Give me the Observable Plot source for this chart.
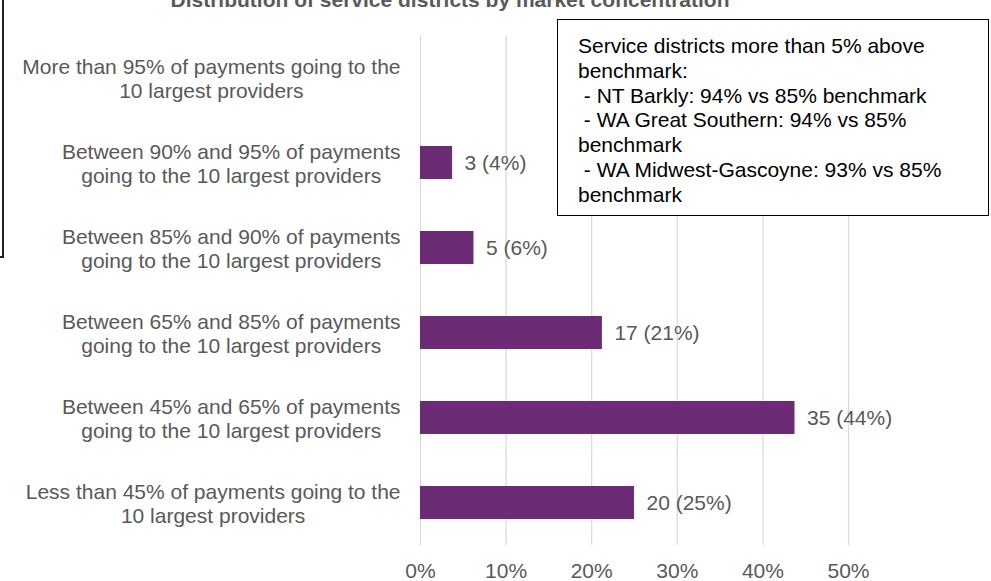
<!DOCTYPE html>
<html>
<head>
<meta charset="utf-8">
<script src="https://cdn.jsdelivr.net/npm/d3@7"></script>
<script src="https://cdn.jsdelivr.net/npm/@observablehq/plot@0.6"></script>
<style>
  html, body { margin: 0; padding: 0; background: #fff; }
  #wrap { position: relative; width: 991px; height: 581px; overflow: hidden; font-family: "Liberation Sans", Arial, sans-serif; }
  #chart { position: absolute; left: 0; top: 0; }
  #title { position: absolute; left: 0; width: 900px; top: -11px; text-align: center; font-weight: bold; font-size: 21px; line-height: 21px; color: #595959; white-space: nowrap; }
  #note { position: absolute; left: 557px; top: 19px; width: 410px; height: 181px; padding: 14px 0 0 20px; border: 1.5px solid #000; background: #fff; color: #000; font-size: 21px; line-height: 24.8px; white-space: pre; box-sizing: content-box; }
  #stray { position: absolute; left: -2px; top: -2px; width: 4px; height: 258px; border-right: 2px solid #222; border-bottom: 2px solid #222; }
</style>
</head>
<body>
<div id="wrap">
  <div id="chart"></div>
  <div id="stray"></div>
  <div id="title"></div>
  <div id="note"></div>
</div>
<script>
const titleText = "Distribution of service districts by market concentration";
const categories = [
  "More than 95% of payments going to the\n10 largest providers",
  "Between 90% and 95% of payments\ngoing to the 10 largest providers",
  "Between 85% and 90% of payments\ngoing to the 10 largest providers",
  "Between 65% and 85% of payments\ngoing to the 10 largest providers",
  "Between 45% and 65% of payments\ngoing to the 10 largest providers",
  "Less than 45% of payments going to the\n10 largest providers"
];
const counts = [0, 3, 5, 17, 35, 20];
const xTicks = [0, 10, 20, 30, 40, 50];
const noteLines = [
  "Service districts more than 5% above",
  "benchmark:",
  " - NT Barkly: 94% vs 85% benchmark",
  " - WA Great Southern: 94% vs 85%",
  "benchmark",
  " - WA Midwest-Gascoyne: 93% vs 85%",
  "benchmark"
];

const total = d3.sum(counts);
const rows = categories.map((c, i) => ({
  category: c,
  count: counts[i],
  pct: counts[i] / total * 100
}));

document.getElementById("title").textContent = titleText;
document.getElementById("note").textContent = noteLines.join("\n");

const grey = "#595959";
const chart = Plot.plot({
  width: 991,
  height: 581,
  marginLeft: 420,
  marginRight: 143,
  marginTop: 35,
  marginBottom: 36,
  style: { fontFamily: "'Liberation Sans', Arial, sans-serif", fontSize: "21px", color: grey, background: "transparent" },
  x: { domain: [0, 50], label: null },
  y: { domain: categories, paddingInner: 0.61, paddingOuter: 0.305, axis: null, label: null },
  marks: [
    Plot.gridX(xTicks, { stroke: "#d9d9d9", strokeOpacity: 1, strokeWidth: 1.2 }),
    Plot.axisX(xTicks, { tickSize: 0, tickPadding: 18, fontSize: 21, fill: grey, label: null, tickFormat: d => d + "%" }),
    Plot.barX(rows, { x: "pct", y: "category", fill: "#6b2c75" }),
    Plot.text(rows.filter(d => d.count > 0), {
      x: "pct", y: "category",
      text: d => `${d.count} (${Math.round(d.pct)}%)`,
      textAnchor: "start", dx: 12, fill: grey, fontSize: 21
    }),
    Plot.text(rows, {
      y: "category", text: "category", frameAnchor: "left", dx: -20,
      textAnchor: "middle", lineAnchor: "middle", lineHeight: 1.19,
      fill: grey, fontSize: 21
    })
  ]
});
document.getElementById("chart").appendChild(chart);

// center each multi-line category label so its right edge sits at x = 400
const flat = new Set(categories.map(c => c.replace("\n", "")));
chart.querySelectorAll("text").forEach(t => {
  if (flat.has(t.textContent)) {
    const w = t.getBBox().width;
    const tr = t.getAttribute("transform") || "";
    t.setAttribute("transform", `${tr} translate(${-w / 2},0)`);
  }
});
</script>
</body>
</html>
